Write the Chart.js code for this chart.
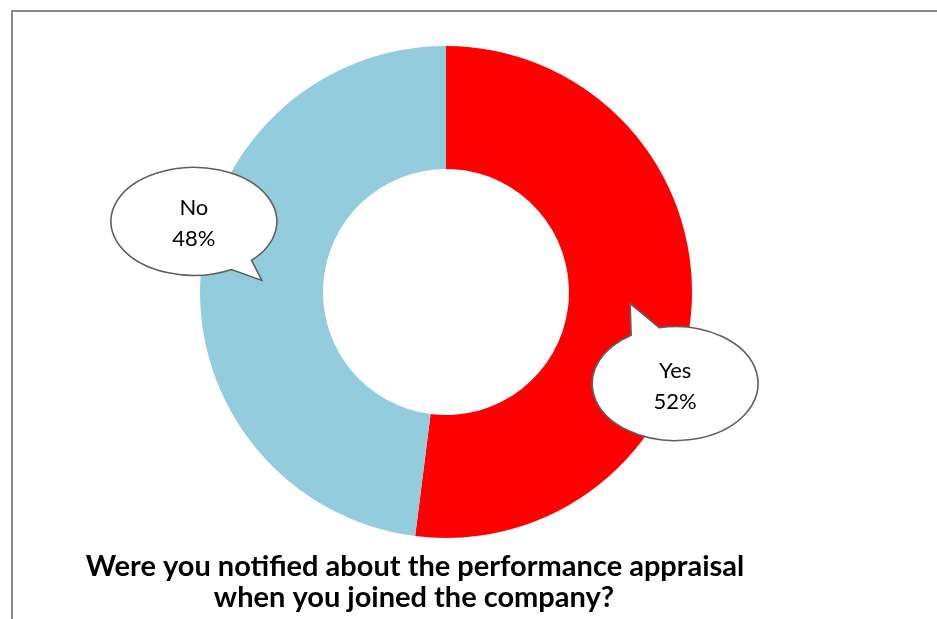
<!DOCTYPE html>
<html>
<head>
<meta charset="utf-8">
<script src="https://cdn.jsdelivr.net/npm/chart.js@4.4.1/dist/chart.umd.min.js"></script>
<style>
  html, body { margin: 0; padding: 0; background: #ffffff; }
  #wrap { width: 937px; height: 619px; position: relative; }
</style>
</head>
<body>
<div id="wrap"><canvas id="chart" width="937" height="619"></canvas></div>
<script>
// Dados do gráfico
const categories = ['Yes', 'No'];
const percentages = [52, 48];
const sliceColors = ['#ff0000', '#93cddd'];
const titleLines = ['Were you notified about the performance appraisal', 'when you joined the company?'];

// Balões de texto: deslocamento do centro da elipse em relação à ponta
const bubbles = [
    { dx: 45, dy: 80, rx: 83, ry: 57, from: 259, to: 238 },
    { dx: -68, dy: -59, rx: 83, ry: 54, from: 63, to: 46 }
];

const rad = d => d * Math.PI / 180;

// Moldura e título
const framePlugin = {
    id: 'frame',
    beforeDraw(chart) {
        const ctx = chart.ctx;
        ctx.save();
        ctx.strokeStyle = '#898989';
        ctx.lineWidth = 2;
        ctx.strokeRect(12, 11, 1000, 1000);
        ctx.restore();
    },
    afterDraw(chart) {
        const ctx = chart.ctx;
        ctx.save();
        ctx.fillStyle = '#000000';
        ctx.font = 'bold 29px Lato';
        ctx.textAlign = 'center';
        ctx.textBaseline = 'alphabetic';
        ctx.fillText(titleLines[0], 415, 576);
        ctx.fillText(titleLines[1], 414, 607);
        ctx.restore();
    }
};

// Balões com rótulo e percentual
const calloutPlugin = {
    id: 'callouts',
    afterDatasetsDraw(chart) {
        const ctx = chart.ctx;
        const meta = chart.getDatasetMeta(0);
        meta.data.forEach((arc, i) => {
            const tip = arc.tooltipPosition();
            const b = bubbles[i];
            const cx = tip.x + b.dx;
            const cy = tip.y + b.dy;
            let end = b.to;
            if (end <= b.from) end += 360;

            ctx.save();
            ctx.beginPath();
            ctx.ellipse(cx, cy, b.rx, b.ry, 0, rad(b.from), rad(end));
            ctx.lineTo(tip.x, tip.y);
            ctx.closePath();
            ctx.fillStyle = '#ffffff';
            ctx.fill();
            ctx.strokeStyle = '#5f5f5f';
            ctx.lineWidth = 1.6;
            ctx.stroke();

            ctx.fillStyle = '#000000';
            ctx.font = '22px Lato';
            ctx.textAlign = 'center';
            ctx.textBaseline = 'alphabetic';
            ctx.fillText(categories[i], cx, cy - 6);
            ctx.fillText(percentages[i] + '%', cx, cy + 25);
            ctx.restore();
        });
    }
};

new Chart(document.getElementById('chart'), {
    type: 'doughnut',
    data: {
        labels: categories,
        datasets: [{
            data: percentages,
            backgroundColor: sliceColors,
            borderWidth: 0
        }]
    },
    options: {
        responsive: false,
        animation: false,
        cutout: '50%',
        layout: { padding: { top: 46, bottom: 81, left: 200, right: 245 } },
        plugins: {
            legend: { display: false },
            tooltip: { enabled: false }
        }
    },
    plugins: [framePlugin, calloutPlugin]
});
</script>
</body>
</html>
